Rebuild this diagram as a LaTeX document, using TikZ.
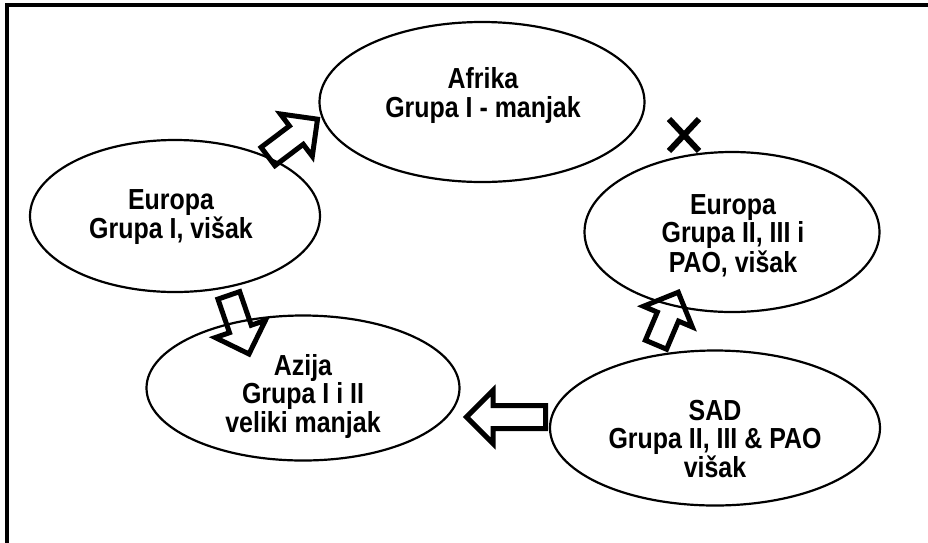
\documentclass[tikz,border=0pt]{standalone}
\usepackage{fontspec}
\setmainfont{Liberation Sans}
\usetikzlibrary{shapes.geometric,shapes.arrows}
\newcommand\lbl[2][25]{\scalebox{0.86}[1]{\fontsize{29}{#1}\selectfont\bfseries\begin{tabular}{@{}c@{}}#2\end{tabular}}}
\tikzset{
  oval/.style={ellipse, draw, line width=2.2pt, inner sep=0pt},
  txt/.style={inner sep=0pt},
  barrow/.style={single arrow, draw, line width=5pt, inner xsep=0pt, inner ysep=9pt,
    single arrow head extend=15pt, single arrow tip angle=90, minimum height=#1, anchor=tail},
  frame/.style={line width=3.5pt},
  cross/.style={line width=6pt}
}
\begin{document}
\begin{tikzpicture}[x=1pt,y=-1pt]
\useasboundingbox (0,0) rectangle (928,542);
\fill[white] (0,0) rectangle (928,542);
\coordinate (fb) at (7,545);
\coordinate (fc) at (7,5);
\coordinate (fr) at (931,5);
\draw[frame] (fb) -- (fc) -- (fr);
% ellipses
\node[oval, minimum width=325pt, minimum height=160pt] (afr) at (482,102) {};
\node[oval, minimum width=290pt, minimum height=152pt] (eul) at (175,216) {};
\node[oval, minimum width=295pt, minimum height=160pt] (eur) at (732,232) {};
\node[oval, minimum width=313pt, minimum height=145pt] (azi) at (303,388) {};
\node[oval, minimum width=330pt, minimum height=155pt] (sad) at (715,428) {};
% texts
\node[txt] (tafr) at (483,96) {\lbl{Afrika\\Grupa I - manjak}};
\node[txt] (teul) at (171,218) {\lbl[24]{Europa\\Grupa I, višak}};
\node[txt] (teur) at (733,237) {\lbl{Europa\\Grupa II, III i\\PAO, višak}};
\node[txt] (tazi) at (303,397) {\lbl{Azija\\Grupa I i II\\veliki manjak}};
\node[txt] (tsad) at (715,443) {\lbl{SAD\\Grupa II, III \& PAO\\višak}};
% block arrows
\node[barrow=62pt, rotate=37] (a1) at (266,158) {};
\node[barrow=62pt, rotate=-71] (a2) at (228,293) {};
\node[barrow=79pt, rotate=180] (a3) at (548,417) {};
\node[barrow=57pt, rotate=67] (a4) at (655,347) {};
% cross
\coordinate (x1) at (669,119);
\coordinate (x2) at (699,151);
\coordinate (x3) at (699,119);
\coordinate (x4) at (669,151);
\draw[cross] (x1) -- (x2);
\draw[cross] (x3) -- (x4);
\end{tikzpicture}
\end{document}
